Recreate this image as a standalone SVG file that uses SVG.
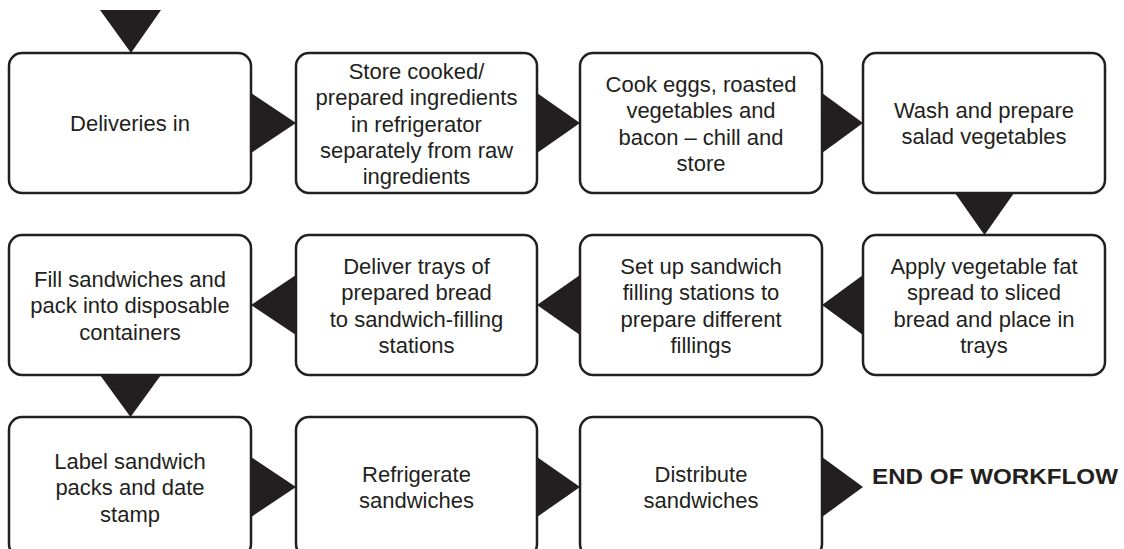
<svg xmlns="http://www.w3.org/2000/svg" width="1124" height="549" viewBox="0 0 1124 549">
<style>
.box{fill:#fff;stroke:#231f20;stroke-width:2.5}
.lbl{font-family:"Liberation Sans",Arial,sans-serif;font-size:22px;fill:#231f20;text-anchor:middle}
.end{font-family:"Liberation Sans",Arial,sans-serif;font-size:22px;font-weight:bold;fill:#231f20}
.arr{fill:#231f20}
</style>
<rect width="1124" height="549" fill="#fff"/>
<g id="connectors">
<polygon class="arr" points="100,10 161,10 131,53"/>
<polygon class="arr" points="251,93 251,153 296,123"/>
<polygon class="arr" points="537,93 537,153 580,123"/>
<polygon class="arr" points="822,93 822,153 863,123"/>
<polygon class="arr" points="955,193 1014,193 984.5,235"/>
<polygon class="arr" points="863,275 863,335 822,305"/>
<polygon class="arr" points="580,275 580,335 537,305"/>
<polygon class="arr" points="296,275 296,335 251,305"/>
<polygon class="arr" points="100,375 161,375 130.5,417"/>
<polygon class="arr" points="251,457 251,517 296,487"/>
<polygon class="arr" points="537,457 537,517 580,487"/>
<polygon class="arr" points="822,457 822,517 863,487"/>
</g>
<g id="n1"><rect class="box" x="9" y="53" width="242" height="140" rx="13"/>
<text class="lbl" x="130" y="131">Deliveries in</text></g>
<g id="n2"><rect class="box" x="296" y="53" width="241" height="140" rx="13"/>
<text class="lbl" x="416.5" y="79">Store cooked/</text>
<text class="lbl" x="416.5" y="105.25">prepared ingredients</text>
<text class="lbl" x="416.5" y="131.5">in refrigerator</text>
<text class="lbl" x="416.5" y="157.75">separately from raw</text>
<text class="lbl" x="416.5" y="184">ingredients</text></g>
<g id="n3"><rect class="box" x="580" y="53" width="242" height="140" rx="13"/>
<text class="lbl" x="701" y="92">Cook eggs, roasted</text>
<text class="lbl" x="701" y="118.25">vegetables and</text>
<text class="lbl" x="701" y="144.5">bacon – chill and</text>
<text class="lbl" x="701" y="170.75">store</text></g>
<g id="n4"><rect class="box" x="863" y="53" width="242" height="140" rx="13"/>
<text class="lbl" x="984" y="118">Wash and prepare</text>
<text class="lbl" x="984" y="144.25">salad vegetables</text></g>
<g id="n5"><rect class="box" x="863" y="235" width="242" height="140" rx="13"/>
<text class="lbl" x="984" y="274">Apply vegetable fat</text>
<text class="lbl" x="984" y="300.25">spread to sliced</text>
<text class="lbl" x="984" y="326.5">bread and place in</text>
<text class="lbl" x="984" y="352.75">trays</text></g>
<g id="n6"><rect class="box" x="580" y="235" width="242" height="140" rx="13"/>
<text class="lbl" x="701" y="274">Set up sandwich</text>
<text class="lbl" x="701" y="300.25">filling stations to</text>
<text class="lbl" x="701" y="326.5">prepare different</text>
<text class="lbl" x="701" y="352.75">fillings</text></g>
<g id="n7"><rect class="box" x="296" y="235" width="241" height="140" rx="13"/>
<text class="lbl" x="416.5" y="274">Deliver trays of</text>
<text class="lbl" x="416.5" y="300.25">prepared bread</text>
<text class="lbl" x="416.5" y="326.5">to sandwich-filling</text>
<text class="lbl" x="416.5" y="352.75">stations</text></g>
<g id="n8"><rect class="box" x="9" y="235" width="242" height="140" rx="13"/>
<text class="lbl" x="130" y="287">Fill sandwiches and</text>
<text class="lbl" x="130" y="313.25">pack into disposable</text>
<text class="lbl" x="130" y="339.5">containers</text></g>
<g id="n9"><rect class="box" x="9" y="417" width="242" height="140" rx="13"/>
<text class="lbl" x="130" y="469">Label sandwich</text>
<text class="lbl" x="130" y="495.25">packs and date</text>
<text class="lbl" x="130" y="521.5">stamp</text></g>
<g id="n10"><rect class="box" x="296" y="417" width="241" height="140" rx="13"/>
<text class="lbl" x="416.5" y="482">Refrigerate</text>
<text class="lbl" x="416.5" y="508.25">sandwiches</text></g>
<g id="n11"><rect class="box" x="580" y="417" width="242" height="140" rx="13"/>
<text class="lbl" x="701" y="482">Distribute</text>
<text class="lbl" x="701" y="508.25">sandwiches</text></g>
<g id="end"><text class="end" x="872" y="484" textLength="246" lengthAdjust="spacingAndGlyphs">END OF WORKFLOW</text></g>
</svg>
